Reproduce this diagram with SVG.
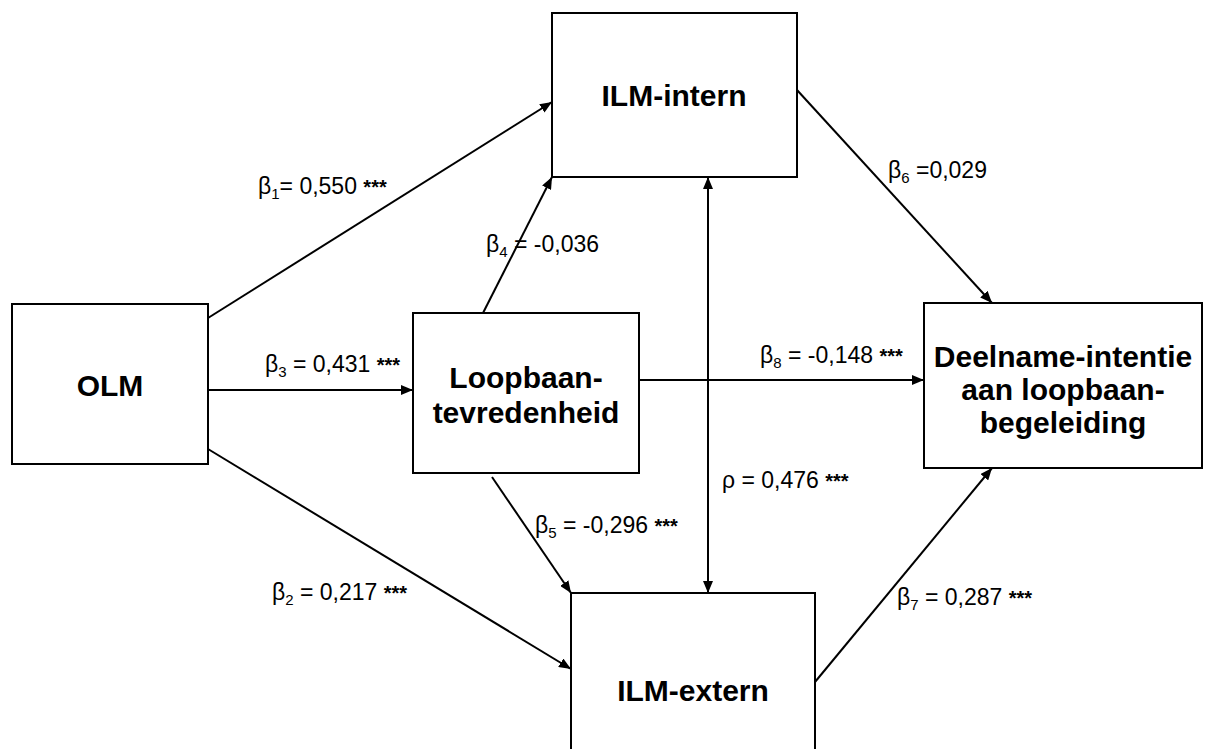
<svg xmlns="http://www.w3.org/2000/svg" width="1206" height="749" viewBox="0 0 1206 749">
<style>
.box{fill:#fff;stroke:#000;stroke-width:2}
.node{font-family:"Liberation Sans",Arial,sans-serif;font-weight:bold;font-size:30px;fill:#000;text-anchor:middle}
.lbl{font-family:"Liberation Sans",Arial,sans-serif;font-size:23px;fill:#000}
.sub{font-size:15px}
.ast{font-weight:bold;font-size:20px}
.edge{stroke:#000;stroke-width:2;fill:none;marker-end:url(#ah)}
</style>
<defs>
<marker id="ah" markerUnits="userSpaceOnUse" markerWidth="12" markerHeight="10" refX="12" refY="5" orient="auto-start-reverse">
<path d="M0,0 L12,5 L0,10 z" fill="#000"/>
</marker>
</defs>
<rect width="1206" height="749" fill="#fff"/>
<g id="connectors">
<line class="edge" x1="208" y1="318" x2="552" y2="102"/>
<line class="edge" x1="208" y1="390" x2="413" y2="390"/>
<line class="edge" x1="208" y1="449" x2="571" y2="669"/>
<line class="edge" x1="483" y1="313" x2="552" y2="177"/>
<line class="edge" x1="492" y1="477" x2="571" y2="593"/>
<line class="edge" x1="639" y1="380" x2="924" y2="380"/>
<line class="edge" x1="797" y1="90" x2="992" y2="303"/>
<line class="edge" x1="815" y1="682" x2="992" y2="468"/>
<line class="edge" x1="708" y1="177" x2="708" y2="593" marker-start="url(#ah)"/>
</g>
<g id="labels">
<text class="lbl" x="258" y="194">β<tspan class="sub" dy="5">1</tspan><tspan dy="-5">= 0,550 </tspan><tspan class="ast">***</tspan></text>
<text class="lbl" x="272" y="600">β<tspan class="sub" dy="5">2</tspan><tspan dy="-5"> = 0,217 </tspan><tspan class="ast">***</tspan></text>
<text class="lbl" x="265" y="372">β<tspan class="sub" dy="5">3</tspan><tspan dy="-5"> = 0,431 </tspan><tspan class="ast">***</tspan></text>
<text class="lbl" x="486" y="252">β<tspan class="sub" dy="5">4</tspan><tspan dy="-5"> = -0,036</tspan></text>
<text class="lbl" x="535" y="533">β<tspan class="sub" dy="5">5</tspan><tspan dy="-5"> = -0,296 </tspan><tspan class="ast">***</tspan></text>
<text class="lbl" x="888" y="178">β<tspan class="sub" dy="5">6</tspan><tspan dy="-5"> =0,029</tspan></text>
<text class="lbl" x="897" y="605">β<tspan class="sub" dy="5">7</tspan><tspan dy="-5"> = 0,287 </tspan><tspan class="ast">***</tspan></text>
<text class="lbl" x="760" y="363">β<tspan class="sub" dy="5">8</tspan><tspan dy="-5"> = -0,148 </tspan><tspan class="ast">***</tspan></text>
<text class="lbl" x="722" y="488">ρ = 0,476 <tspan class="ast">***</tspan></text>
</g>
<g id="node-olm">
<rect class="box" x="12" y="304" width="196" height="160"/>
<text class="node" x="110" y="396">OLM</text>
</g>
<g id="node-loopbaan">
<rect class="box" x="413" y="313" width="226" height="160"/>
<text class="node" x="526" y="388">Loopbaan-</text>
<text class="node" x="526" y="423">tevredenheid</text>
</g>
<g id="node-ilm-intern">
<rect class="box" x="552" y="13" width="245" height="164"/>
<text class="node" x="674" y="106">ILM-intern</text>
</g>
<g id="node-ilm-extern">
<rect class="box" x="571" y="593" width="244" height="170"/>
<text class="node" x="693" y="701">ILM-extern</text>
</g>
<g id="node-deelname">
<rect class="box" x="924" y="303" width="278" height="165"/>
<text class="node" x="1063" y="367">Deelname-intentie</text>
<text class="node" x="1063" y="400">aan loopbaan-</text>
<text class="node" x="1063" y="433">begeleiding</text>
</g>
</svg>
